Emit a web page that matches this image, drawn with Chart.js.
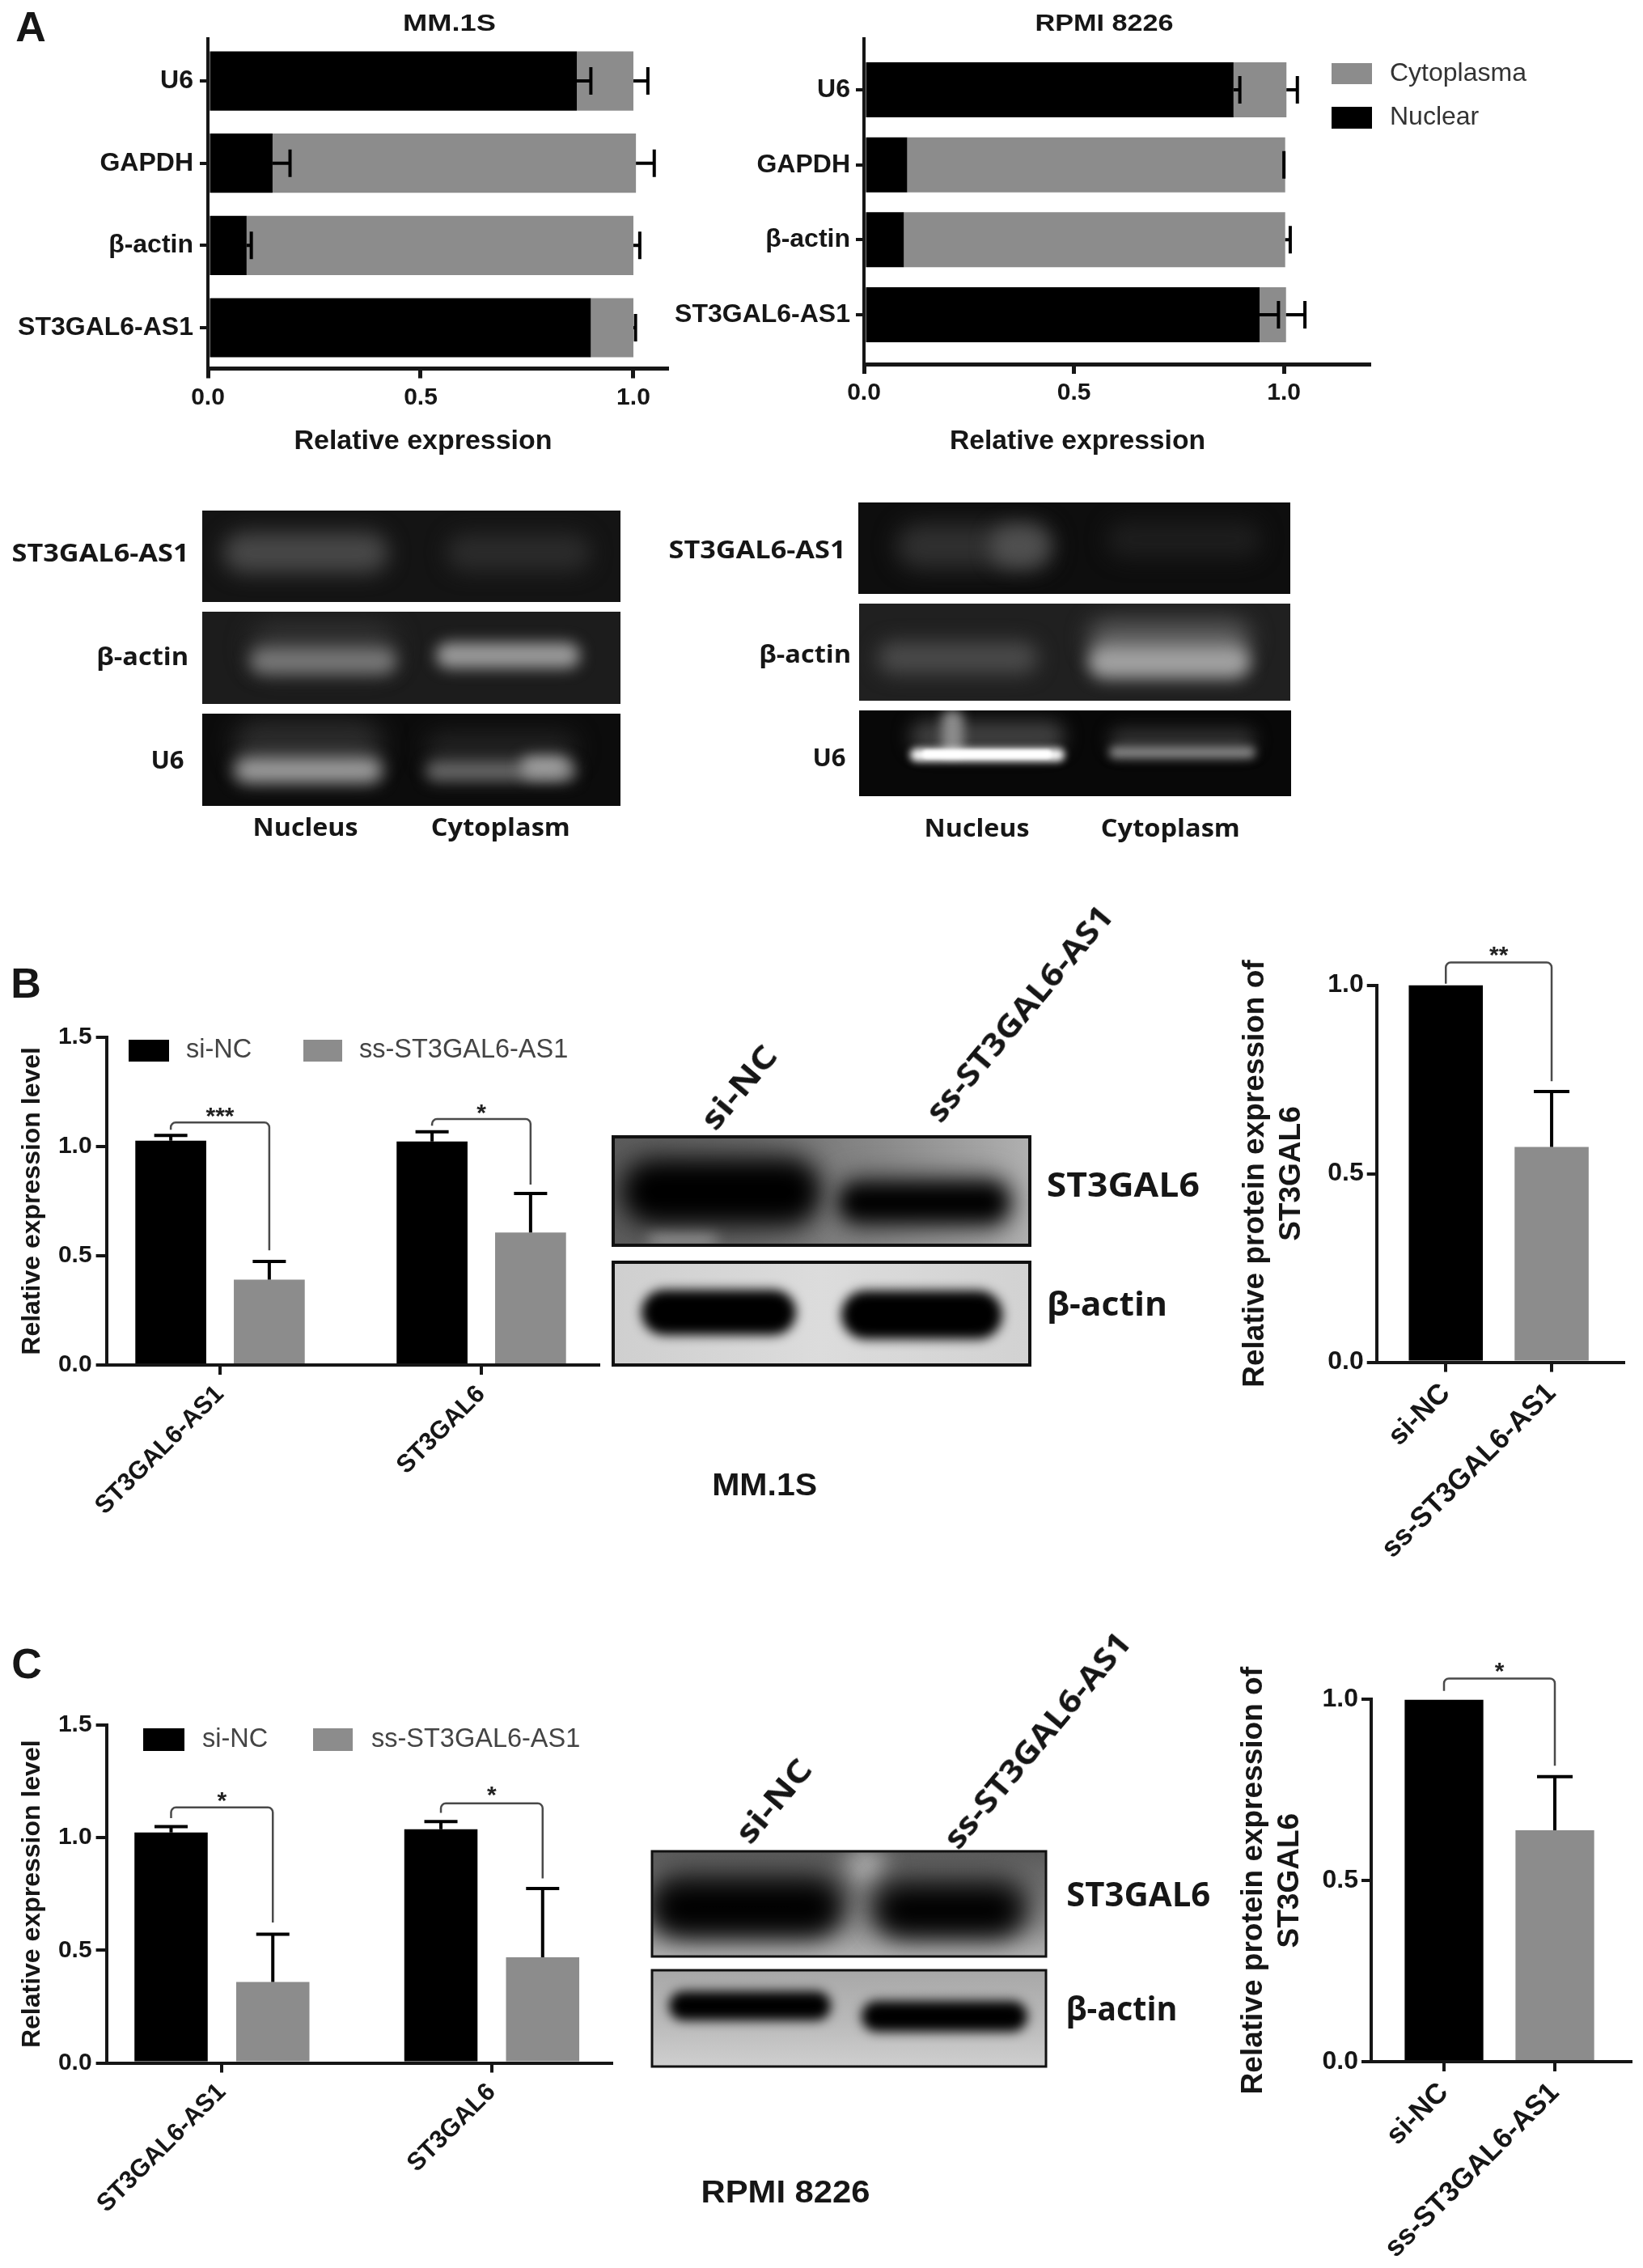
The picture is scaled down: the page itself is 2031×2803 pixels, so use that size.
<!DOCTYPE html>
<html>
<head>
<meta charset="utf-8">
<script src="https://cdn.jsdelivr.net/npm/chart.js@4/dist/chart.umd.min.js"></script>
<style>
html,body{margin:0;padding:0;background:#fff}
#page{position:relative;width:2031px;height:2803px;overflow:hidden;background:#fff}
canvas{position:absolute}
.t{position:absolute;white-space:nowrap;line-height:1;color:#161616;filter:blur(.5px)}
</style>
</head>
<body>
<div id="page"></div>
<script>
// ---------- data ----------
const locLabels = ['U6','GAPDH','β-actin','ST3GAL6-AS1'];
const mmNuclear = [0.867,0.152,0.091,0.900];
const mmCytoplasma = [0.133,0.854,0.909,0.100];
const mmNuclearErr = [0.033,0.041,0.011,null];
const mmCytoplasmaErr = [0.034,0.043,0.015,0.005];
const rpmiNuclear = [0.880,0.103,0.095,0.942];
const rpmiCytoplasma = [0.126,0.900,0.908,0.063];
const rpmiNuclearErr = [0.015,null,null,0.045];
const rpmiCytoplasmaErr = [0.026,-0.003,0.012,0.045];
const geneLabels = ['ST3GAL6-AS1','ST3GAL6'];
const groupLabels = ['si-NC','ss-ST3GAL6-AS1'];
const mmRnaNC = [1.026,1.022];
const mmRnaNCErr = [0.024,0.045];
const mmRnaSS = [0.390,0.606];
const mmRnaSSErr = [0.084,0.179];
const rpmiRnaNC = [1.023,1.037];
const rpmiRnaNCErr = [0.026,0.035];
const rpmiRnaSS = [0.359,0.469];
const rpmiRnaSSErr = [0.212,0.305];
const mmProtein = [1.0,0.571];
const mmProteinErr = [null,0.147];
const rpmiProtein = [1.0,0.639];
const rpmiProteinErr = [null,0.148];
const xTicksFraction = [0,0.5,1];
const rnaTicks = [0,0.5,1,1.5];

const BLACK='#000000', GRAY='#8c8c8c', INK='#161616', SANS='"Liberation Sans", Arial, sans-serif', HUM='"Open Sans", sans-serif';
const page=document.getElementById('page');

// ---------- free text ----------
function label(text,cx,cy,size,opt={}){
  const d=document.createElement('div');
  d.className='t'; d.textContent=text;
  d.style.font=`${opt.weight||'bold'} ${size}px ${opt.family||SANS}`;
  d.style.lineHeight='1';
  if(opt.color) d.style.color=opt.color;
  page.appendChild(d);
  const w=d.getBoundingClientRect().width, h=d.getBoundingClientRect().height;
  const sx=opt.width?opt.width/w:1;
  d.style.left=(cx-w/2)+'px'; d.style.top=(cy-h/2)+'px';
  d.style.transform=`rotate(${opt.rot||0}deg) scaleX(${sx})`;
}

// ---------- gels and blots (photographic panels) ----------
const photo=document.createElement('canvas');
photo.width=2031;photo.height=2803;page.appendChild(photo);
const g=photo.getContext('2d');
function panel(x,y,w,h,bg,border,bands){
  g.save();
  g.beginPath();g.rect(x,y,w,h);g.clip();
  g.fillStyle=bg;g.fillRect(x,y,w,h);
  for(const [x1,x2,yc,bh,col,blur] of bands){
    g.filter=`blur(${blur}px)`;
    g.fillStyle=col;
    g.beginPath();g.roundRect(x1,yc-bh/2,x2-x1,bh,bh/2);g.fill();
  }
  g.filter='none';
  g.restore();
  if(border){g.strokeStyle='#111';g.lineWidth=border;g.strokeRect(x,y,w,h);}
}
function hgrad(x,w,stops){const l=g.createLinearGradient(x,0,x+w,0);stops.forEach((c,i)=>l.addColorStop(i/(stops.length-1),c));return l;}
function vgrad(y,h,stops){const l=g.createLinearGradient(0,y,0,y+h);stops.forEach((c,i)=>l.addColorStop(i/(stops.length-1),c));return l;}
// left gels
panel(250,631,517,113,'#141414',0,[[276,480,683,50,'#484848',13],[552,730,683,46,'#2b2b2b',13]]);
panel(250,756,517,114,'#1c1c1c',0,[[309,490,800,58,'#333',15],[309,490,817,32,'#787878',10],[539,717,810,32,'#9a9a9a',9]]);
panel(250,882,517,114,'#0c0c0c',0,[[289,473,920,60,'#2c2c2c',15],[526,713,925,40,'#222',14],[289,473,952,32,'#9c9c9c',10],[526,713,953,26,'#666',9],[644,703,948,26,'#a0a0a0',9]]);
// right gels
panel(1061,621,534,113,'#0e0e0e',0,[[1108,1302,675,56,'#303030',14],[1224,1296,675,50,'#505050',12],[1368,1559,667,46,'#1d1d1d',13]]);
panel(1062,746,533,120,'#202020',0,[[1085,1283,813,40,'#4a4a4a',12],[1345,1546,790,46,'#5c5c5c',14],[1345,1546,818,42,'#a0a0a0',10]]);
panel(1062,878,534,106,'#080808',0,[[1125,1316,910,38,'#404040',11],[1164,1191,905,56,'#8c8c8c',7],[1371,1552,915,30,'#303030',10],[1125,1316,933,16,'#ffffff',5],[1140,1300,932,10,'#ffffff',2],[1371,1552,930,14,'#8c8c8c',6]]);
// MM.1S blots
panel(758,1405,515,134,hgrad(758,515,['#5c5c5c','#6c6c6c','#8c8c8c','#b0b0b0']),4,[[802,887,1527,22,'#b5b5b5',9],[760,1020,1473,100,'#333',16],[1030,1255,1486,70,'#444',15],[776,1006,1473,66,'#000',13],[1040,1243,1486,42,'#000',11]]);
panel(758,1560,515,127,hgrad(758,515,['#cfcfcf','#dcdcdc','#d2d2d2']),4,[[793,984,1622,56,'#000',7],[1040,1239,1625,60,'#000',7]]);
// RPMI 8226 blots
panel(806,2288,487,130,vgrad(2288,130,['#5c5c5c','#707070','#8a8a8a','#b0b0b0']),3,[[1045,1095,2308,50,'#aaaaaa',14],[800,1045,2352,84,'#333',16],[1076,1275,2355,80,'#3a3a3a',16],[810,1035,2358,58,'#000',15],[1086,1260,2361,54,'#000',15]]);
panel(806,2435,487,119,vgrad(2435,119,['#a8a8a8','#b8b8b8','#cfcfcf']),3,[[827,1027,2479,36,'#000',7],[1065,1270,2492,38,'#000',7]]);

// ---------- chart decoration plugin ----------
const decor={
  id:'decor',
  afterDatasetsDraw(chart,args,o){
    const c=chart.ctx, horiz=chart.options.indexAxis==='y';
    const vs=chart.scales.y, hs=chart.scales.x;
    const ox=parseFloat(chart.canvas.style.left), oy=parseFloat(chart.canvas.style.top);
    c.save();
    // error bars
    (o.errors||[]).forEach((errs,d)=>{
      chart.getDatasetMeta(d).data.forEach((bar,i)=>{
        const e=errs[i]; if(e===null||e===undefined) return;
        c.strokeStyle='#000';c.lineWidth=o.errWidth;c.lineCap='butt';
        c.beginPath();
        if(horiz){
          const end=hs.getPixelForValue(hs.getValueForPixel(bar.x)+e);
          c.moveTo(bar.x,bar.y);c.lineTo(end,bar.y);
          c.moveTo(end,bar.y-o.cap/2);c.lineTo(end,bar.y+o.cap/2);
        }else{
          const end=vs.getPixelForValue(vs.getValueForPixel(bar.y)+e);
          c.moveTo(bar.x,bar.y);c.lineTo(bar.x,end);
          c.moveTo(bar.x-o.cap/2,end);c.lineTo(bar.x+o.cap/2,end);
        }
        c.stroke();
      });
    });
    // significance brackets
    (o.brackets||[]).forEach(b=>{
      const x1=chart.getDatasetMeta(0).data[b.group].x, x2=chart.getDatasetMeta(1).data[b.group].x;
      const y1=vs.getPixelForValue(b.start), yt=vs.getPixelForValue(b.top), y2=vs.getPixelForValue(b.end), r=6;
      c.strokeStyle='#4a4a4a';c.lineWidth=2.5;
      c.beginPath();c.moveTo(x1,y1);c.arcTo(x1,yt,x2,yt,r);c.arcTo(x2,yt,x2,y2,r);c.lineTo(x2,y2);c.stroke();
      c.fillStyle='#222';c.font=`bold 30px ${SANS}`;c.textAlign='center';c.textBaseline='middle';
      c.fillText(b.text,(x1+x2)/2,vs.getPixelForValue(b.star)+6);
    });
    // legend
    (o.legend||[]).forEach(l=>{
      const ds=chart.data.datasets[l.dataset];
      c.fillStyle=ds.backgroundColor;c.fillRect(l.x-ox,l.y-oy,l.w,l.h);
      c.fillStyle=o.legendColor||'#333';c.font=`${o.legendSize}px ${SANS}`;c.textAlign='left';c.textBaseline='middle';
      c.fillText(ds.label,l.tx-ox,l.y-oy+l.h/2);
    });
    c.restore();
  }
};
Chart.register(decor);
Chart.defaults.animation=false;
Chart.defaults.responsive=false;
Chart.defaults.font.family=SANS;

function fixTicks(values){return s=>{s.ticks=values.map(v=>({value:v}));};}
function fit(size,key){return s=>{s[key]=size;s.paddingLeft=s.paddingRight=s.paddingTop=s.paddingBottom=0;};}
function axis(extra,tickLen,lw){
  return Object.assign({
    offset:false,
    border:{color:INK,width:lw,display:true},
    grid:{display:true,offset:false,drawOnChartArea:false,drawTicks:true,tickLength:tickLen,tickWidth:lw,tickColor:INK,color:INK,lineWidth:lw}
  },extra);
}
function make(plot,left,top,right,bottom,config){
  const c=document.createElement('canvas');
  c.width=right-left;c.height=bottom-top;
  c.style.left=left+'px';c.style.top=top+'px';c.style.filter='blur(.6px)';
  page.appendChild(c);
  const o=config.options;
  o.layout={padding:{left:0,top:plot.t-top,right:right-plot.r,bottom:0}};
  o.scales.y.afterFit=fit(plot.l-left,'width');
  o.scales.x.afterFit=fit(bottom-plot.b,'height');
  return new Chart(c,config);
}

// ---------- panel A stacked bars ----------
function stacked(plot,box,nuclear,cyto,nErr,cErr,yMin,yMax,xMax,barPct,yPad,xPad,legend){
  make(plot,box[0],box[1],box[2],box[3],{
    type:'bar',
    data:{datasets:[
      {label:'Nuclear',data:nuclear.map((v,i)=>({x:v,y:i})),backgroundColor:BLACK,barPercentage:barPct,categoryPercentage:1},
      {label:'Cytoplasma',data:cyto.map((v,i)=>({x:v,y:i})),backgroundColor:GRAY,barPercentage:barPct,categoryPercentage:1}
    ]},
    options:{
      indexAxis:'y',
      plugins:{legend:{display:false},tooltip:{enabled:false},
        decor:{errors:[nErr,cErr],errWidth:4,cap:34,legend,legendSize:32}},
      scales:{
        y:axis({type:'linear',reverse:true,stacked:true,min:yMin,max:yMax,
          afterBuildTicks:fixTicks(locLabels.map((_,i)=>i)),
          ticks:{autoSkip:false,color:INK,padding:yPad,font:{size:32,weight:'bold'},callback:v=>locLabels[v]}},10,4),
        x:axis({type:'linear',stacked:true,min:0,max:xMax,
          afterBuildTicks:fixTicks(xTicksFraction),
          ticks:{autoSkip:false,color:INK,padding:xPad,font:{size:30,weight:'bold'},callback:v=>v.toFixed(1)}},12,5)
      }
    }
  });
}
stacked({l:257,t:48,r:824,b:455.5},[0,0,850,530],mmNuclear,mmCytoplasma,mmNuclearErr,mmCytoplasmaErr,-0.512,3.497,1.078,0.72,8,6);
stacked({l:1068,t:48,r:1692,b:450},[820,0,1920,530],rpmiNuclear,rpmiCytoplasma,rpmiNuclearErr,rpmiCytoplasmaErr,-0.68,3.658,1.202,0.734,7,6,
  [{dataset:1,x:1646,y:78,w:50,h:26,tx:1718},{dataset:0,x:1646,y:132,w:50,h:27,tx:1718}]);

// ---------- panels B, C grouped bars ----------
function rna(plot,box,nc,ncErr,ss,ssErr,xMin,xMax,brackets,legend){
  make(plot,box[0],box[1],box[2],box[3],{
    type:'bar',
    data:{datasets:[
      {label:groupLabels[0],data:nc.map((v,i)=>({x:i,y:v})),backgroundColor:BLACK,barPercentage:0.72,categoryPercentage:0.754},
      {label:groupLabels[1],data:ss.map((v,i)=>({x:i,y:v})),backgroundColor:GRAY,barPercentage:0.72,categoryPercentage:0.754}
    ]},
    options:{
      plugins:{legend:{display:false},tooltip:{enabled:false},
        decor:{errors:[ncErr,ssErr],errWidth:4,cap:41,brackets,legend,legendSize:32.5,legendColor:'#444'}},
      scales:{
        x:axis({type:'linear',min:xMin,max:xMax,
          afterBuildTicks:fixTicks(geneLabels.map((_,i)=>i)),
          ticks:{autoSkip:false,color:INK,padding:6,maxRotation:45,minRotation:45,font:{size:31,weight:'bold'},callback:v=>geneLabels[v]}},12,4),
        y:axis({type:'linear',min:0,max:1.5,
          afterBuildTicks:fixTicks(rnaTicks),
          title:{display:true,text:'Relative expression level',color:INK,font:{size:32,weight:'bold'},padding:{top:21,bottom:0}},
          ticks:{autoSkip:false,color:INK,padding:5,font:{size:30,weight:'bold'},callback:v=>v.toFixed(1)}},13,4)
      }
    }
  });
}
rna({l:131.6,t:1281.7,r:740,b:1687},[0,1240,750,1900],mmRnaNC,mmRnaNCErr,mmRnaSS,mmRnaSSErr,-0.4347,1.449,
  [{group:0,start:1.076,top:1.109,end:0.525,star:1.154,text:'***'},{group:1,start:1.095,top:1.125,end:0.825,star:1.172,text:'*'}],
  [{dataset:0,x:159,y:1285,w:50,h:27,tx:230},{dataset:1,x:375,y:1285,w:48,h:27,tx:444}]);
rna({l:131.6,t:2132,r:756,b:2549.5},[0,2090,766,2770],rpmiRnaNC,rpmiRnaNCErr,rpmiRnaSS,rpmiRnaSSErr,-0.428,1.444,
  [{group:0,start:1.087,top:1.134,end:0.623,star:1.18,text:'*'},{group:1,start:1.11,top:1.152,end:0.819,star:1.205,text:'*'}],
  [{dataset:0,x:177,y:2136,w:51,h:28,tx:250},{dataset:1,x:387,y:2136,w:49,h:28,tx:459}]);

function protein(plot,box,values,errs,xMin,xMax,bracket,barPct){
  make(plot,box[0],box[1],box[2],box[3],{
    type:'bar',
    data:{datasets:[
      {label:'Relative protein expression',data:values.map((v,i)=>({x:i,y:v})),
       backgroundColor:[BLACK,GRAY],barPercentage:barPct,categoryPercentage:1,grouped:false}
    ]},
    options:{
      plugins:{legend:{display:false},tooltip:{enabled:false},decor:{errors:[errs],errWidth:4,cap:44}},
      scales:{
        x:axis({type:'linear',min:xMin,max:xMax,
          afterBuildTicks:fixTicks(groupLabels.map((_,i)=>i)),
          ticks:{autoSkip:false,color:INK,padding:6,maxRotation:45,minRotation:45,font:{size:35,weight:'bold'},callback:v=>groupLabels[v]}},12,4),
        y:axis({type:'linear',min:0,max:1,
          afterBuildTicks:fixTicks(xTicksFraction),
          title:{display:true,text:['Relative protein expression of','ST3GAL6'],color:INK,font:{size:37,weight:'bold'},padding:{top:0,bottom:0}},
          ticks:{autoSkip:false,color:INK,padding:4,font:{size:32,weight:'bold'},callback:v=>v.toFixed(1)}},12,4)
      }
    },
    plugins:[{id:'proteinBracket',afterDatasetsDraw(chart){
      const c=chart.ctx,m=chart.getDatasetMeta(0).data,vs=chart.scales.y,x1=m[0].x,x2=m[1].x,
        y1=vs.getPixelForValue(bracket.start),yt=vs.getPixelForValue(bracket.top),y2=vs.getPixelForValue(bracket.end);
      c.save();c.strokeStyle='#4a4a4a';c.lineWidth=2.5;
      c.beginPath();c.moveTo(x1,y1);c.arcTo(x1,yt,x2,yt,6);c.arcTo(x2,yt,x2,y2,6);c.lineTo(x2,y2);c.stroke();
      c.fillStyle='#222';c.font=`bold 30px ${SANS}`;c.textAlign='center';c.textBaseline='middle';
      c.fillText(bracket.text,(x1+x2)/2,vs.getPixelForValue(bracket.star)+6);c.restore();
    }}]
  });
}
protein({l:1701.7,t:1217.5,r:2007,b:1683.6},[1530,1150,2030,1965],mmProtein,mmProteinErr,-0.654,1.68,
  {start:1.004,top:1.06,end:0.745,star:1.09,text:'**'},0.70);
protein({l:1695,t:2100.4,r:2016,b:2548},[1528,2030,2029,2800],rpmiProtein,rpmiProteinErr,-0.657,1.686,
  {start:1.024,top:1.058,end:0.817,star:1.088,text:'*'},0.71);

// ---------- free labels ----------
label('A',38,33,52);label('B',32,1215,52);label('C',33,2056,52);
label('MM.1S',556,28,30,{width:115});
label('RPMI 8226',1365,28,30,{width:171});
label('Relative expression',523,543,33,{width:319});
label('Relative expression',1332,543,33,{width:316});

label('ST3GAL6-AS1',124,682,31,{family:HUM,width:219});
label('β-actin',176,810,31,{family:HUM,width:114});
label('U6',207,938,31,{family:HUM});
label('Nucleus',378,1021,31,{family:HUM,width:130});
label('Cytoplasm',619,1021,31,{family:HUM,width:172});
label('ST3GAL6-AS1',936,678,31,{family:HUM,width:219});
label('β-actin',995,807,31,{family:HUM,width:114});
label('U6',1025,935,31,{family:HUM});
label('Nucleus',1208,1022,31,{family:HUM,width:130});
label('Cytoplasm',1447,1022,31,{family:HUM,width:172});

label('si-NC',912,1343,40,{family:HUM,rot:-50,width:122});
label('ss-ST3GAL6-AS1',1259,1252,40,{family:HUM,rot:-50,width:335});
label('ST3GAL6',1388,1463,42,{family:HUM,width:189});
label('β-actin',1368,1610,42,{family:HUM,width:149});
label('MM.1S',945,1835,38,{width:130});

label('si-NC',955,2225,40,{family:HUM,rot:-50,width:122});
label('ss-ST3GAL6-AS1',1281,2150,40,{family:HUM,rot:-50,width:335});
label('ST3GAL6',1407,2340,42,{family:HUM,width:178});
label('β-actin',1386,2481,42,{family:HUM,width:138});
label('RPMI 8226',971,2709,38,{width:209});
</script>
</body>
</html>
